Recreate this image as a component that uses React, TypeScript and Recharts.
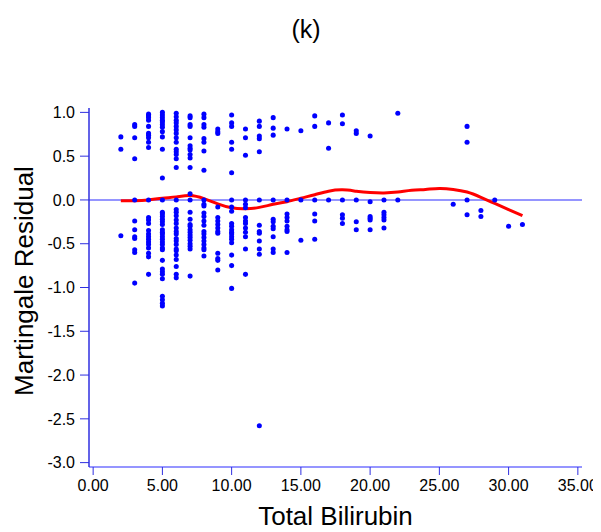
import { ComposedChart, Scatter, Line, XAxis, YAxis, ZAxis, ReferenceLine, Label } from 'recharts';

// bilirubin values (x) and the martingale residuals observed at each one
const bilirubinLevels = [2, 3, 4, 5, 6, 7, 8, 9, 10, 11, 12, 13, 14, 15, 16, 17, 18, 19, 20, 21, 22, 26, 27, 28, 29, 30, 31];
const residualsByLevel = [
  [0.72, 0.58, -0.41],
  [0.86, 0.84, 0.71, 0.47, 0, -0.24, -0.34, -0.42, -0.44, -0.57, -0.6, -0.95],
  [0.98, 0.96, 0.94, 0.91, 0.84, 0.76, 0.74, 0.71, 0.66, 0.6, 0, -0.2, -0.23, -0.27, -0.35, -0.39, -0.42, -0.45, -0.48, -0.51, -0.55, -0.61, -0.65, -0.85],
  [1.0, 0.97, 0.94, 0.91, 0.89, 0.86, 0.83, 0.78, 0.72, 0.58, 0.25, 0, -0.14, -0.16, -0.19, -0.22, -0.25, -0.28, -0.34, -0.37, -0.39, -0.42, -0.45, -0.48, -0.51, -0.55, -0.57, -0.69, -0.79, -0.82, -0.85, -0.9, -1.1, -1.14, -1.18, -1.21],
  [0.99, 0.95, 0.91, 0.88, 0.84, 0.8, 0.76, 0.71, 0.66, 0.58, 0.55, 0.52, 0.47, 0.37, 0, -0.11, -0.14, -0.18, -0.23, -0.27, -0.32, -0.36, -0.39, -0.44, -0.47, -0.51, -0.56, -0.58, -0.63, -0.68, -0.76, -0.85, -0.89],
  [0.96, 0.94, 0.86, 0.84, 0.71, 0.62, 0.59, 0.57, 0.52, 0.48, 0.37, 0.07, 0, -0.14, -0.22, -0.28, -0.3, -0.34, -0.37, -0.4, -0.43, -0.46, -0.5, -0.53, -0.56, -0.87],
  [0.98, 0.94, 0.86, 0.83, 0.7, 0.66, 0.56, 0.34, 0, -0.05, -0.07, -0.15, -0.19, -0.24, -0.29, -0.36, -0.39, -0.43, -0.47, -0.51, -0.55, -0.57, -0.64],
  [0.81, 0.78, 0.76, -0.08, -0.2, -0.24, -0.28, -0.32, -0.36, -0.38, -0.61, -0.67, -0.69, -0.8],
  [0.97, 0.88, 0.84, 0.66, 0.58, 0.31, 0, -0.08, -0.13, -0.27, -0.3, -0.34, -0.37, -0.39, -0.42, -0.45, -0.49, -0.63, -0.75, -1.01],
  [0.81, 0.71, 0.51, 0, -0.05, -0.09, -0.2, -0.24, -0.27, -0.32, -0.37, -0.42, -0.56, -0.85],
  [0.9, 0.84, 0.73, 0.7, 0.55, 0, -0.29, -0.36, -0.38, -0.47, -0.56, -0.62, -2.58],
  [0.94, 0.82, 0.74, 0, -0.22, -0.25, -0.3, -0.33, -0.42, -0.56, -0.6],
  [0.81, 0, -0.16, -0.2, -0.24, -0.3, -0.34, -0.36, -0.6],
  [0.79, 0, -0.46],
  [0.96, 0.84, 0, -0.16, -0.24, -0.45],
  [0.88, 0.59, 0],
  [0.97, 0.87, 0, -0.17, -0.21, -0.27],
  [0.79, 0.76, 0, -0.25, -0.34],
  [0.73, -0.02, -0.19, -0.21, -0.23, -0.34],
  [0, -0.14, -0.17, -0.2, -0.23, -0.32],
  [0.99, 0],
  [-0.05],
  [0.84, 0.66, 0, -0.17],
  [-0.12, -0.19],
  [0],
  [-0.3],
  [-0.28],
];

// smoothed fit
const smoothX = [2, 3, 4, 5, 6, 7, 8, 9, 10, 11, 12, 13, 14, 15, 16, 17, 18, 19, 20, 21, 22, 23, 24, 25, 26, 27, 28, 29, 30, 31];
const smoothY = [-0.01, -0.01, 0, 0.02, 0.035, 0.05, 0.015, -0.045, -0.09, -0.1, -0.085, -0.05, -0.02, 0.02, 0.06, 0.1, 0.115, 0.1, 0.085, 0.08, 0.09, 0.11, 0.12, 0.13, 0.12, 0.09, 0.03, -0.04, -0.11, -0.18];

const xTicks = [0, 5, 10, 15, 20, 25, 30, 35];
const yTicks = [-3, -2.5, -2, -1.5, -1, -0.5, 0, 0.5, 1];

const points = bilirubinLevels.flatMap((x, i) => residualsByLevel[i].map((y) => ({ x, y })));
const smooth = smoothX.map((x, i) => ({ x, y: smoothY[i] }));

const FONT = '"Liberation Sans", Arial, sans-serif';
const AXIS_BLUE = '#2f2fe0';
const FRAME_BLUE = '#7272ff';
const X_DOMAIN: [number, number] = [-0.3, 35.3];
const Y_DOMAIN: [number, number] = [-3.05, 1.05];

export default function App() {
  return (
    <div style={{ width: 593, height: 524, fontFamily: FONT }}>
      <ComposedChart width={593} height={524} margin={{ top: 100, right: 19, bottom: 0, left: 0 }}>
        <text x={298} y={30} textAnchor="middle" fontSize={25} fill="#000" fontFamily={FONT}>(k)</text>
        <text transform="translate(25, 273) rotate(-90)" textAnchor="middle" fontSize={26} fill="#000" fontFamily={FONT}>
          Martingale Residual
        </text>

        <XAxis
          dataKey="x" type="number" domain={X_DOMAIN} allowDataOverflow ticks={xTicks} interval={0}
          tickFormatter={(v: number) => v.toFixed(2)} height={65} tickSize={8} tickMargin={5}
          axisLine={{ stroke: FRAME_BLUE, strokeWidth: 1.5 }} tickLine={{ stroke: AXIS_BLUE }}
          tick={{ fontSize: 16, fill: '#000', fontFamily: FONT }}
        >
          <Label value="Total Bilirubin" position="insideBottom" offset={7} style={{ fontSize: 26, fill: '#000', fontFamily: FONT }} />
        </XAxis>
        <XAxis xAxisId="top" orientation="top" type="number" domain={X_DOMAIN} allowDataOverflow height={0}
          tick={false} tickLine={false} axisLine={{ stroke: AXIS_BLUE, strokeWidth: 1.5 }} />
        <YAxis
          dataKey="y" type="number" domain={Y_DOMAIN} allowDataOverflow ticks={yTicks} interval={0}
          tickFormatter={(v: number) => v.toFixed(1)} width={81} tickSize={9} tickMargin={5}
          axisLine={{ stroke: AXIS_BLUE, strokeWidth: 1.5 }} tickLine={{ stroke: AXIS_BLUE }}
          tick={{ fontSize: 16, fill: '#000', fontFamily: FONT }}
        />
        <YAxis yAxisId="right" orientation="right" type="number" domain={Y_DOMAIN} allowDataOverflow width={0}
          tick={false} tickLine={false} axisLine={{ stroke: FRAME_BLUE, strokeWidth: 1.5 }} />
        <ZAxis range={[20, 20]} />

        <ReferenceLine y={0} stroke={FRAME_BLUE} strokeWidth={1.5} />
        <Line data={smooth} dataKey="y" type="natural" stroke="#ff0000" strokeWidth={3} dot={false} isAnimationActive={false} />
        <Scatter data={points} dataKey="y" fill="#0000ff" isAnimationActive={false} />
      </ComposedChart>
    </div>
  );
}
